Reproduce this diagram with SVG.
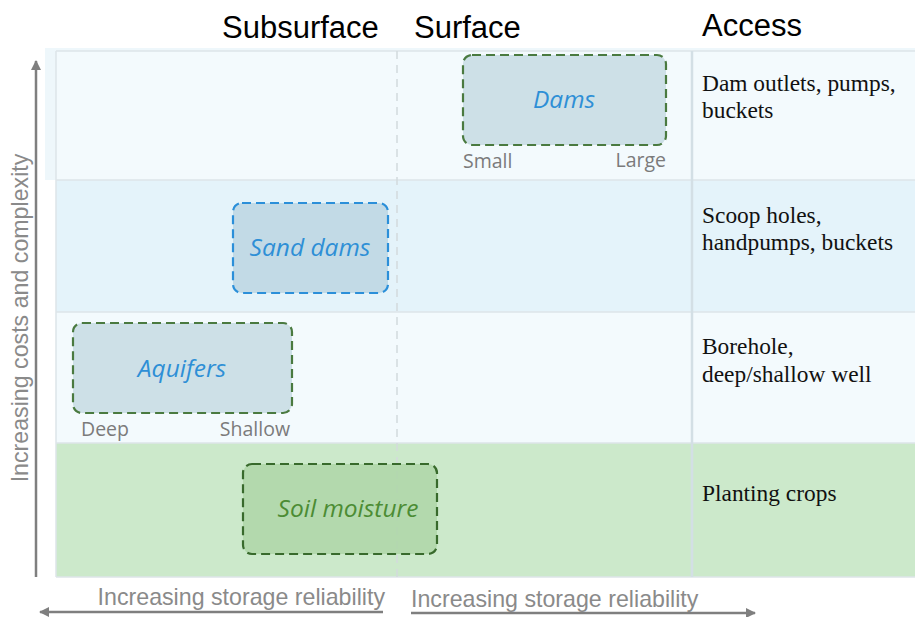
<svg xmlns="http://www.w3.org/2000/svg" width="915" height="617" viewBox="0 0 915 617">
<defs>
<style>
.hdr{font-family:"Liberation Sans",Arial,sans-serif;font-size:31px;fill:#000}
.acc{font-family:"Liberation Serif","Times New Roman",serif;font-size:23.4px;fill:#111}
.axis{font-family:"Liberation Sans",Arial,sans-serif;font-size:23.2px;fill:#8a8a8a}
.lbl{font-family:"Open Sans","Noto Sans",sans-serif;font-style:italic;font-size:24.5px;text-anchor:middle}
.sub{font-family:"Open Sans","Noto Sans",sans-serif;font-size:19.5px;fill:#7b7b7b}
.box{stroke-width:2.2;stroke-dasharray:9 5}
.grid{stroke:#dde5e9;stroke-width:1.5;fill:none}
.ax{stroke:#7f7f7f;stroke-width:2.5;fill:none}
</style>
<marker id="ah" viewBox="0 0 10 10" refX="9" refY="5" markerWidth="4" markerHeight="4" orient="auto">
<path d="M0,0 L10,5 L0,10 z" fill="#7f7f7f"/>
</marker>
</defs>
<rect width="915" height="617" fill="#fff"/>
<g id="bands">
<rect x="45" y="48" width="870" height="132" fill="#eef7fb"/>
<rect x="56" y="51" width="859" height="129" fill="#f3fafd"/>
<rect x="56" y="180" width="859" height="132" fill="#e4f3fa"/>
<rect x="56" y="312" width="859" height="131" fill="#f3fafd"/>
<rect x="56" y="443" width="859" height="134" fill="#cce9cb"/>
<path class="grid" d="M56,51 H915 M56,180 H915 M56,312 H915 M56,443 H915 M56,577 H915 M56,51 V577"/>
<line x1="692" y1="51" x2="692" y2="577" stroke="#d3dfe5" stroke-width="2.5"/>
<line x1="397" y1="51" x2="397" y2="577" stroke="#d2dadd" stroke-width="1.5" stroke-dasharray="8 6"/>
</g>
<g id="headers">
<text class="hdr" x="222" y="38">Subsurface</text>
<text class="hdr" x="414" y="38">Surface</text>
<text class="hdr" x="702" y="36">Access</text>
</g>
<g id="access">
<text class="acc" x="702" y="91">Dam outlets, pumps,</text>
<text class="acc" x="702" y="118">buckets</text>
<text class="acc" x="702" y="223">Scoop holes,</text>
<text class="acc" x="702" y="250">handpumps, buckets</text>
<text class="acc" x="702" y="354">Borehole,</text>
<text class="acc" x="702" y="382">deep/shallow well</text>
<text class="acc" x="702" y="501">Planting crops</text>
</g>
<g id="dams">
<rect class="box" x="463" y="55" width="203" height="90" rx="9" fill="#cde0e7" stroke="#4a7a40"/>
<text class="lbl" x="564" y="108" fill="#2e8fd6">Dams</text>
<text class="sub" x="463" y="168">Small</text>
<text class="sub" x="666" y="167" text-anchor="end">Large</text>
</g>
<g id="sand-dams">
<rect class="box" x="233" y="203" width="155" height="90" rx="9" fill="#c2dae6" stroke="#2b8fd9"/>
<text class="lbl" x="310" y="256" fill="#2e8fd6">Sand dams</text>
</g>
<g id="aquifers">
<rect class="box" x="73" y="323" width="219" height="90" rx="9" fill="#cde0e7" stroke="#4a7a40"/>
<text class="lbl" x="182" y="377" fill="#2e8fd6">Aquifers</text>
<text class="sub" x="81" y="436">Deep</text>
<text class="sub" x="290" y="436" text-anchor="end">Shallow</text>
</g>
<g id="soil-moisture">
<rect class="box" x="243" y="464" width="194" height="90" rx="9" fill="#aed6a8" fill-opacity="0.85" stroke="#386a2c"/>
<text class="lbl" x="348" y="517" fill="#4c8c34">Soil moisture</text>
</g>
<g id="connectors">
<line class="ax" x1="36" y1="577" x2="36" y2="61" marker-end="url(#ah)"/>
<line class="ax" x1="383" y1="612" x2="40" y2="612" marker-end="url(#ah)"/>
<line class="ax" x1="411" y1="613" x2="755" y2="613" marker-end="url(#ah)"/>
</g>
<g id="axis-labels">
<text class="axis" transform="translate(28,318) rotate(-90)" text-anchor="middle">Increasing costs and complexity</text>
<text class="axis" x="385" y="605" text-anchor="end">Increasing storage reliability</text>
<text class="axis" x="411" y="607">Increasing storage reliability</text>
</g>
</svg>
